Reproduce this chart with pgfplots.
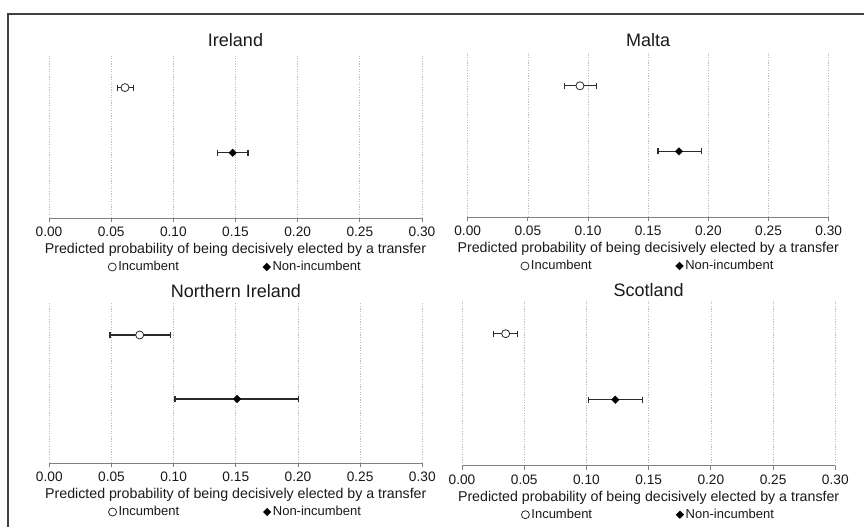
\documentclass[border=0pt]{standalone}
\usepackage{pgfplots}
\pgfplotsset{compat=1.18}
\usepackage{fontspec}
\setmainfont{Liberation Sans}
\definecolor{txt}{HTML}{1A1A1A}
\definecolor{axc}{HTML}{808080}
\definecolor{grd}{HTML}{BDBDBD}
\definecolor{bar}{HTML}{2A2A2A}
\pgfplotsset{
  panel/.style={
    scale only axis,
    xmin=0, xmax=0.30, ymin=0, ymax=2.5,
    axis x line=bottom, axis y line=none,
    x axis line style={-, draw=axc, line width=0.9pt},
    xtick={0,0.05,0.1,0.15,0.2,0.25,0.3},
    xticklabels={0.00,0.05,0.10,0.15,0.20,0.25,0.30},
    tick align=outside, major tick length=4pt,
    tick style={draw=axc, line width=0.9pt},
    xmajorgrids,
    major grid style={draw=grd, dash pattern=on 1.2pt off 1.4pt, line width=0.7pt},
    xticklabel style={font=\fontsize{13.7}{15}\selectfont, text=txt, inner sep=1pt, yshift=-4pt},
    xlabel={Predicted probability of being decisively elected by a transfer},
    xlabel style={at={(axis description cs:0.5,0)}, anchor=center, yshift=-32pt,
      font=\fontsize{14.2}{16}\selectfont, text=txt},
    title style={at={(axis description cs:0.5,1)}, anchor=center,
      font=\fontsize{18}{20}\selectfont, text=txt},
    legend columns=2,
    legend style={at={(axis description cs:0.5,0)}, anchor=center, yshift=-49pt,
      draw=none, fill=none, font=\fontsize{13}{15}\selectfont, text=txt,
      /tikz/every even column/.append style={column sep=82pt}},
    legend image code/.code={\draw[mark repeat=2,mark phase=2,##1] plot coordinates {(0cm,0cm)(0.15cm,0cm)(0.3cm,0cm)};},
    clip=false,
  },
  inc/.style={only marks, mark=*, mark size=4pt,
    mark options={fill=white, draw=bar, line width=0.8pt},
    error bars/.cd, x dir=both, x explicit, error mark=|,
    error bar style={draw=bar, line width=1.3pt},
    error mark options={draw=bar, line width=1.3pt, mark size=3pt}},
  non/.style={only marks, mark=square*, mark size=2.7pt,
    mark options={fill=black, draw=black, line width=0.3pt, rotate=45},
    error bars/.cd, x dir=both, x explicit, error mark=|,
    error bar style={draw=bar, line width=1.3pt},
    error mark options={draw=bar, line width=1.3pt, mark size=3pt, rotate=0}},
}
\begin{document}
\begin{tikzpicture}
\fill[white] (0pt,0pt) rectangle (864pt,527pt);
\useasboundingbox (0pt,0pt) rectangle (864pt,527pt);
\draw[black!75, line width=1.5pt] (8pt,0pt) -- (8pt,513pt) -- (864pt,513pt);

% Ireland
\begin{axis}[panel, at={(49pt,309pt)}, anchor=south west, width=373pt, height=163pt,
  title={Ireland}, title style={yshift=9pt}]
\addplot[inc] coordinates {(0.0611,2) += (0.0067,0) -= (0.0061,0)};
\addlegendentry{Incumbent}
\addplot[non] coordinates {(0.1477,1) += (0.0123,0) -= (0.0120,0)};
\addlegendentry{Non-incumbent}
\end{axis}

% Malta
\begin{axis}[panel, at={(467.7pt,310pt)}, anchor=south west, width=361pt, height=164pt,
  title={Malta}, title style={yshift=7pt}]
\addplot[inc] coordinates {(0.0933,2) += (0.0136,0) -= (0.0127,0)};
\addlegendentry{Incumbent}
\addplot[non] coordinates {(0.1756,1) += (0.0185,0) -= (0.0174,0)};
\addlegendentry{Non-incumbent}
\end{axis}

% Northern Ireland
\begin{axis}[panel, at={(49.3pt,64pt)}, anchor=south west, width=373pt, height=160pt,
  title={Northern Ireland}, title style={yshift=6pt}]
\addplot[inc] coordinates {(0.0727,2) += (0.0249,0) -= (0.0239,0)};
\addlegendentry{Incumbent}
\addplot[non] coordinates {(0.1510,1) += (0.0493,0) -= (0.0499,0)};
\addlegendentry{Non-incumbent}
\end{axis}

% Scotland
\begin{axis}[panel, at={(462pt,61.3pt)}, anchor=south west, width=373.3pt, height=165pt,
  title={Scotland}, title style={yshift=5pt}]
\addplot[inc] coordinates {(0.0351,2) += (0.0094,0) -= (0.0096,0)};
\addlegendentry{Incumbent}
\addplot[non] coordinates {(0.1232,1) += (0.0220,0) -= (0.0214,0)};
\addlegendentry{Non-incumbent}
\end{axis}
\end{tikzpicture}
\end{document}
